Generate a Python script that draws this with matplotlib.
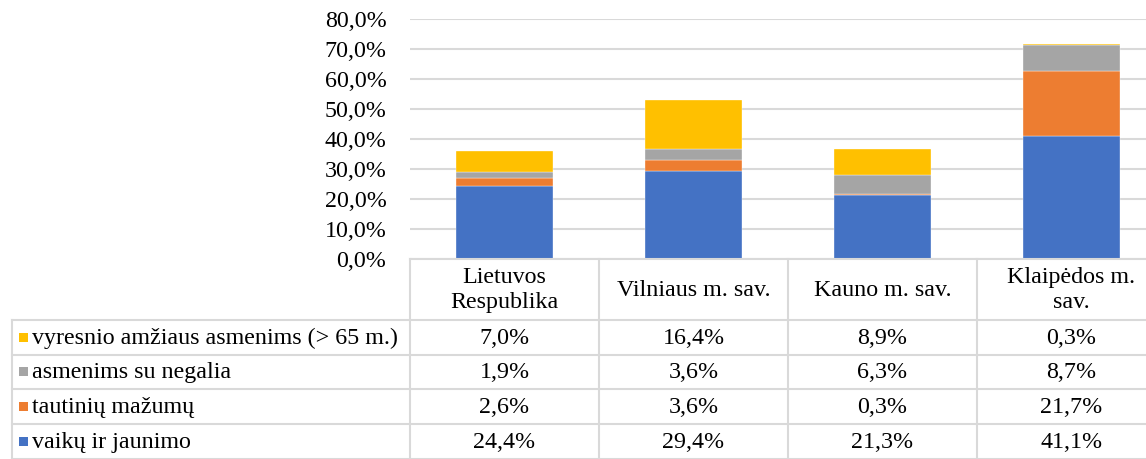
import numpy as np
import matplotlib
matplotlib.use("Agg")
import matplotlib.pyplot as plt
from matplotlib.lines import Line2D
from matplotlib.patches import Rectangle
from matplotlib.transforms import blended_transform_factory

plt.rcParams['font.family'] = ['Liberation Serif', 'DejaVu Serif']

categories = ["Lietuvos\nRespublika", "Vilniaus m. sav.", "Kauno m. sav.", "Klaipėdos m.\nsav."]
series_names = ["vaikų ir jaunimo", "tautinių mažumų", "asmenims su negalia",
                "vyresnio amžiaus asmenims (> 65 m.)"]
vaiku = [24.4, 29.4, 21.3, 41.1]
tautiniu = [2.6, 3.6, 0.3, 21.7]
negalia = [1.9, 3.6, 6.3, 8.7]
vyresnio = [7.0, 16.4, 8.9, 0.3]
colors = ["#4472C4", "#ED7D31", "#A5A5A5", "#FFC000"]

W, H = 1146, 459
FS = 17.3
fig = plt.figure(figsize=(W / 100, H / 100), dpi=100)
ax = fig.add_axes([410 / W, 1 - 259 / H, 1 - 410 / W, (259 - 19) / H])

x = np.arange(len(categories))
series = [vaiku, tautiniu, negalia, vyresnio]
bottom = np.zeros(len(categories))
for vals, col in zip(series, colors):
    v = np.array(vals) / 100
    ax.bar(x, v, 0.51, bottom=bottom, color=col, edgecolor="white", linewidth=0.25, zorder=3)
    bottom += v

ax.set_xlim(-0.5, -0.5 + (W - 410) / 189)
ax.set_ylim(0, 0.8)
yt = np.arange(0, 0.81, 0.1)
ax.set_yticks(yt)
ax.set_yticklabels([f"{t*100:.1f}%".replace(".", ",") for t in yt], fontsize=FS)
ax.tick_params(axis="y", length=0, pad=17)
ax.set_xticks([])
ax.grid(axis="y", color="#d9d9d9", linewidth=1.5, zorder=0)
for s in ax.spines.values():
    s.set_visible(False)

# data table
tr = blended_transform_factory(ax.transData, fig.transFigure)
trf = fig.transFigure
fy = lambda p: 1 - p / H
gc = "#d9d9d9"
row_edges = [320, 354.5, 389, 424, 459]
left_x = 12 / W

def fline(xs, ys, transform):
    fig.add_artist(Line2D(xs, ys, transform=transform, color=gc, linewidth=1.5))

# vertical lines
for b in np.arange(len(categories) + 1) - 0.5:
    fline([b, b], [fy(259), fy(459)], tr)
fline([left_x, left_x], [fy(320), fy(459)], trf)
# horizontal lines
fline([-0.5, 4], [fy(259), fy(259)], tr)
for r in row_edges:
    fline([left_x, 1], [fy(r), fy(r)], trf)

# header
for i, c in enumerate(categories):
    fig.text(i, fy(290), c, transform=tr, ha="center", va="center",
             fontsize=FS, linespacing=1.25)

# rows (top to bottom: reverse stacking order)
rows = list(zip(series_names, series, colors))[::-1]
for k, (name, vals, col) in enumerate(rows):
    yc = (row_edges[k] + row_edges[k + 1]) / 2
    fig.add_artist(Rectangle((19 / W, fy(yc + 4.5)), 9 / W, 9 / H, transform=trf,
                             color=col, linewidth=0))
    fig.text(32 / W, fy(yc + 1), name, transform=trf, ha="left", va="center", fontsize=FS)
    for i, v in enumerate(vals):
        fig.text(i, fy(yc + 1), f"{v:.1f}%".replace(".", ","), transform=tr,
                 ha="center", va="center", fontsize=FS)

fig.savefig("out.png", dpi=100)
